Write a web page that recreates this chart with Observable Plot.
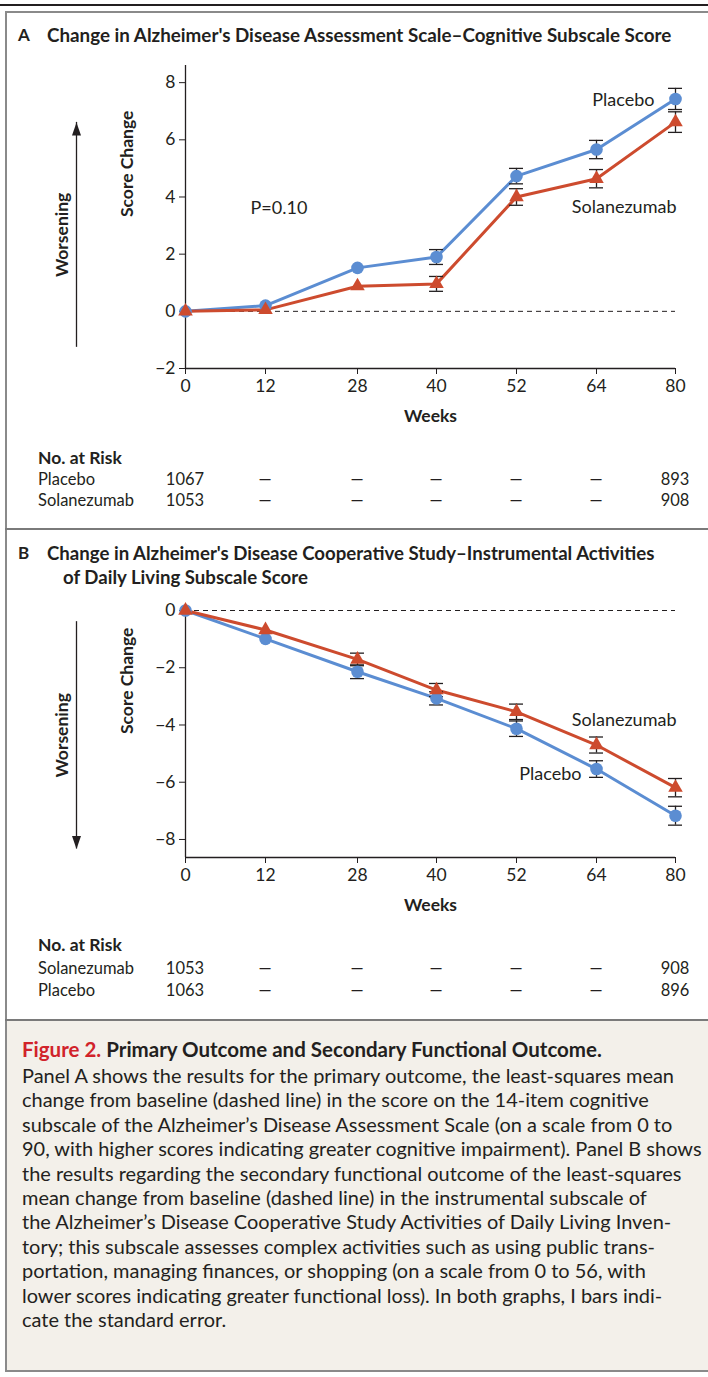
<!DOCTYPE html>
<html><head><meta charset="utf-8">
<script src="https://cdn.jsdelivr.net/npm/d3@7"></script>
<script src="https://cdn.jsdelivr.net/npm/@observablehq/plot@0.6"></script>
<style>
body{margin:0;background:#fff;}
#page{position:relative;width:708px;height:1377px;font-family:Lato,"Open Sans",sans-serif;color:#231f20;overflow:hidden;background:#fff;}
.a{position:absolute;white-space:nowrap;line-height:20px;}
.b{font-weight:bold;}
.c{transform:translateX(-50%);text-align:center;}
.line{position:absolute;}
svg.plot{position:absolute;left:0;overflow:visible;}
</style></head><body><div id="page"></div>
<script>
// ---------- data ----------
const weeks = [0, 12, 28, 40, 52, 64, 80];
const groups = ["Placebo", "Solanezumab"];

// Panel A: ADAS-Cog14 change
const adasPlacebo   = [0, 0.20, 1.52, 1.90, 4.73, 5.66, 7.43];
const adasPlaceboSE = [0, 0,    0,    0.26, 0.27, 0.32, 0.37];
const adasSola      = [0, 0.05, 0.88, 0.96, 4.00, 4.64, 6.62];
const adasSolaSE    = [0, 0,    0,    0.26, 0.29, 0.32, 0.36];

// Panel B: ADCS-iADL change
const iadlPlacebo   = [0, -0.99, -2.14, -3.07, -4.13, -5.54, -7.17];
const iadlPlaceboSE = [0, 0,     0.24,  0.23,  0.27,  0.29,  0.33];
const iadlSola      = [0, -0.68, -1.71, -2.78, -3.54, -4.70, -6.19];
const iadlSolaSE    = [0, 0,     0.22,  0.23,  0.27,  0.28,  0.32];

const yTicksA = [-2, 0, 2, 4, 6, 8];
const yTicksB = [-8, -6, -4, -2, 0];

// Numbers at risk
const riskRowsA = ["Placebo", "Solanezumab"];
const riskA_Placebo     = ["1067", "—", "—", "—", "—", "—", "893"];
const riskA_Solanezumab = ["1053", "—", "—", "—", "—", "—", "908"];
const riskRowsB = ["Solanezumab", "Placebo"];
const riskB_Solanezumab = ["1053", "—", "—", "—", "—", "—", "908"];
const riskB_Placebo     = ["1063", "—", "—", "—", "—", "—", "896"];

const titleA = "Change in Alzheimer's Disease Assessment Scale–Cognitive Subscale Score";
const titleB1 = "Change in Alzheimer's Disease Cooperative Study–Instrumental Activities";
const titleB2 = "of Daily Living Subscale Score";
const figLabel = "Figure 2.";
const figTitle = "Primary Outcome and Secondary Functional Outcome.";
const captionLines = [
  "Panel A shows the results for the primary outcome, the least-squares mean",
  "change from baseline (dashed line) in the score on the 14-item cognitive",
  "subscale of the Alzheimer’s Disease Assessment Scale (on a scale from 0 to",
  "90, with higher scores indicating greater cognitive impairment). Panel B shows",
  "the results regarding the secondary functional outcome of the least-squares",
  "mean change from baseline (dashed line) in the instrumental subscale of",
  "the Alzheimer’s Disease Cooperative Study Activities of Daily Living Inven-",
  "tory; this subscale assesses complex activities such as using public trans-",
  "portation, managing finances, or shopping (on a scale from 0 to 56, with",
  "lower scores indicating greater functional loss). In both graphs, I bars indi-",
  "cate the standard error."
];

// ---------- style ----------
const INK = "#231f20";
const BLUE = "#5b8dd2";
const RED = "#cd4b2e";
const FONT = "Lato, 'Open Sans', sans-serif";
// visit spacing of the horizontal axis (slightly wider gap between weeks 12 and 28)
const XPIX = [185, 265, 357, 436, 516, 596, 675];
const visitPos = d3.scaleLinear().domain(weeks).range(XPIX);
const X_SCALE = {type: "linear", transform: d => visitPos(d), domain: [XPIX[0], XPIX[XPIX.length - 1]], range: [XPIX[0], XPIX[XPIX.length - 1]]};
const xTickPos = weeks.map(w => visitPos(w));

const page = document.getElementById("page");
function el(tag, cls, css, text) {
  const e = document.createElement(tag);
  if (cls) e.className = cls;
  Object.assign(e.style, css || {});
  if (text != null) e.textContent = text;
  page.appendChild(e);
  return e;
}
function fitWidth(e, target) {
  const fs = parseFloat(getComputedStyle(e).fontSize);
  const w = e.getBoundingClientRect().width;
  e.style.fontSize = (fs * target / w) + "px";
}

// frame lines
el("div", "line", {left: "0px", top: "4px", width: "708px", height: "2px", background: INK});
el("div", "line", {left: "5px", top: "11px", width: "703px", height: "2px", background: "#8a8a8a"});
el("div", "line", {left: "7px", top: "1021px", width: "701px", height: "350px", background: "#f3f0ea"});
el("div", "line", {left: "5px", top: "11px", width: "2px", height: "1361px", background: "#8a8a8a"});
el("div", "line", {left: "5px", top: "528px", width: "703px", height: "2px", background: "#7a7a7a"});
el("div", "line", {left: "5px", top: "1019px", width: "703px", height: "2px", background: "#7a7a7a"});
el("div", "line", {left: "5px", top: "1370px", width: "703px", height: "2px", background: "#8a8a8a"});

// titles
el("div", "a b", {left: "18px", top: "25px", fontSize: "17px"}, "A");
fitWidth(el("div", "a b", {left: "47px", top: "25px", fontSize: "16px"}, titleA), 625);
el("div", "a b", {left: "18px", top: "543px", fontSize: "17px"}, "B");
const tb1 = el("div", "a b", {left: "47px", top: "543px", fontSize: "16px"}, titleB1);
fitWidth(tb1, 608);
el("div", "a b", {left: "63px", top: "567px", fontSize: tb1.style.fontSize}, titleB2);

// caption
const cap = el("div", "a b", {left: "22px", top: "1039px", fontSize: "17px"});
const capRed = document.createElement("span"); capRed.textContent = figLabel + " "; capRed.style.color = "#d1232a";
const capRest = document.createElement("span"); capRest.textContent = figTitle;
cap.appendChild(capRed); cap.appendChild(capRest);
fitWidth(cap, 580);
const capEls = captionLines.map((t, i) => el("div", "a", {left: "22px", top: (1065 + i * 24.4) + "px", fontSize: "17px"}, t));
const maxW = Math.max(...capEls.map(e => e.getBoundingClientRect().width));
const capSize = (17 * 680 / maxW) + "px";
capEls.forEach(e => e.style.fontSize = capSize);

// ---------- charts ----------
const HEAD_UP = {draw(c) { c.moveTo(0, 0); c.lineTo(4.5, 13); c.lineTo(-4.5, 13); c.closePath(); }};
const HEAD_DOWN = {draw(c) { c.moveTo(0, 0); c.lineTo(4.5, -13); c.lineTo(-4.5, -13); c.closePath(); }};

function makeRows(p, pse, s, sse) {
  const rows = [];
  weeks.forEach((w, i) => {
    rows.push({week: w, group: "Placebo", v: p[i], se: pse[i]});
    rows.push({week: w, group: "Solanezumab", v: s[i], se: sse[i]});
  });
  return rows;
}

function panel(cfg) {
  const rows = makeRows(cfg.p, cfg.pse, cfg.s, cfg.sse);
  const eb = rows.filter(d => d.se > 0);
  const a = cfg.arrow;
  const svg = Plot.plot({
    width: 708, height: cfg.mt + cfg.frameH + 70,
    marginLeft: 185, marginRight: 33, marginTop: cfg.mt, marginBottom: 70,
    style: {fontFamily: FONT, fontSize: "17px", color: INK, background: "transparent", overflow: "visible"},
    x: X_SCALE,
    y: {domain: cfg.yDomain},
    color: {domain: groups, range: [BLUE, RED]},
    marks: [
      Plot.ruleY([0], {stroke: INK, strokeWidth: 1, strokeDasharray: "5,4"}),
      Plot.ruleX([0], {stroke: INK, strokeWidth: 1.3}),
      Plot.ruleY([cfg.yDomain[0]], {stroke: INK, strokeWidth: 1.3}),
      Plot.axisY({ticks: cfg.yTicks, tickSize: 6, tickPadding: 4, label: null, fontSize: 17.5, stroke: INK}),
      Plot.axisX({ticks: xTickPos, tickSize: 6, tickPadding: 5, label: null, fontSize: 17.5, stroke: INK,
                  tickFormat: d => String(weeks[xTickPos.indexOf(d)])}),
      Plot.text(["Weeks"], {frameAnchor: "bottom", dy: 53, fontWeight: "bold", fontSize: 17.5, fill: INK}),
      Plot.text(["Score Change"], {frameAnchor: "left", dx: -58, rotate: -90, fontWeight: "bold", fontSize: 17.5, fill: INK}),
      // Worsening arrow
      Plot.ruleX([0], {y1: a.tail, y2: a.tip, dx: -109, stroke: INK, strokeWidth: 1.3}),
      Plot.dot([0], {x: 0, y: a.tip, dx: -109, symbol: a.tip > a.tail ? HEAD_UP : HEAD_DOWN, fill: INK, stroke: "none"}),
      Plot.text(["Worsening"], {x: 0, y: (a.tail + a.tip) / 2, dx: -123, rotate: -90, fontWeight: "bold", fontSize: 17.5, fill: INK}),
      // series
      Plot.line(rows, {x: "week", y: "v", z: "group", stroke: "group", strokeWidth: 3}),
      Plot.ruleX(eb, {x: "week", y1: d => d.v - d.se, y2: d => d.v + d.se, stroke: INK, strokeWidth: 1.3}),
      Plot.ruleY(eb, {x1: "week", x2: "week", y: d => d.v - d.se, insetLeft: -7, insetRight: -7, stroke: INK, strokeWidth: 1.3}),
      Plot.ruleY(eb, {x1: "week", x2: "week", y: d => d.v + d.se, insetLeft: -7, insetRight: -7, stroke: INK, strokeWidth: 1.3}),
      Plot.dot(rows.filter(d => d.group === "Placebo"), {x: "week", y: "v", fill: "group", r: 6.3, symbol: "circle", stroke: "none"}),
      Plot.dot(rows.filter(d => d.group === "Solanezumab"), {x: "week", y: "v", fill: "group", r: 5.4, symbol: "triangle", stroke: "none"}),
      ...cfg.labels.map(l => Plot.text([l.text], {x: l.x, y: l.y, dx: l.dx, textAnchor: l.anchor, fontSize: 18, fill: INK}))
    ]
  });
  svg.classList.add("plot");
  svg.style.top = cfg.top + "px";
  page.appendChild(svg);
}

// number-at-risk table, columns aligned with the week positions of the axis
function riskTable(cfg) {
  el("div", "a b", {left: "38px", top: (cfg.ys[0] - 10) + "px", fontSize: "17.5px"}, "No. at Risk");
  cfg.rows.forEach((r, j) => {
    const yc = cfg.ys[j + 1];
    el("div", "a", {left: "38px", top: (yc - 10) + "px", fontSize: "16.5px"}, r);
    cfg.values[j].forEach((v, i) => {
      el("div", "a c", {left: visitPos(weeks[i]) + "px", top: (yc - 10) + "px", fontSize: "16.5px"}, v);
    });
  });
}

panel({
  p: adasPlacebo, pse: adasPlaceboSE, s: adasSola, sse: adasSolaSE,
  yDomain: [-2, 8.6], yTicks: yTicksA, top: 55, mt: 10, frameH: 303,
  arrow: {tail: -1.26, tip: 6.61},
  labels: [
    {text: "Placebo", x: 80, y: 7.38, dx: -21, anchor: "end"},
    {text: "Solanezumab", x: 80, y: 3.64, dx: 1, anchor: "end"},
    {text: "P=0.10", x: 0, y: 3.6, dx: 65, anchor: "start"}
  ]
});
riskTable({rows: riskRowsA, values: [riskA_Placebo, riskA_Solanezumab], ys: [458, 479, 500]});

panel({
  p: iadlPlacebo, pse: iadlPlaceboSE, s: iadlSola, sse: iadlSolaSE,
  yDomain: [-8.63, 0], yTicks: yTicksB, top: 595, mt: 15, frameH: 247,
  arrow: {tail: -0.39, tip: -8.33},
  labels: [
    {text: "Solanezumab", x: 80, y: -3.82, dx: 1, anchor: "end"},
    {text: "Placebo", x: 64, y: -5.73, dx: -15, anchor: "end"}
  ]
});
riskTable({rows: riskRowsB, values: [riskB_Solanezumab, riskB_Placebo], ys: [945, 968, 990]});
</script>
</body></html>
